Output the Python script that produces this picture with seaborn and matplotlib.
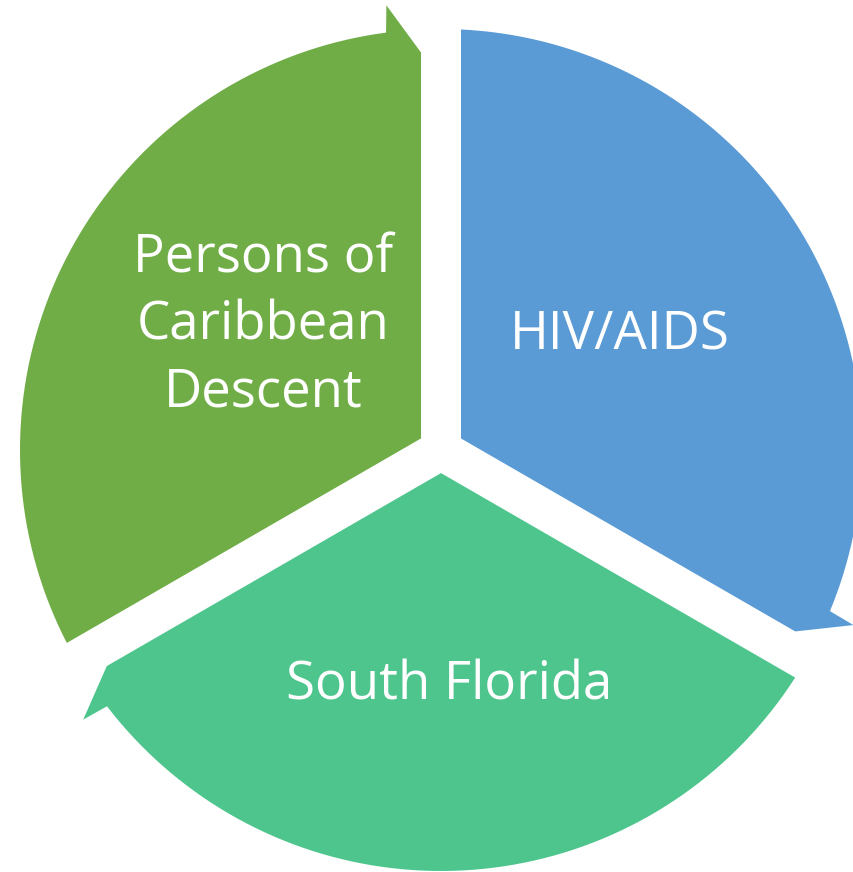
import numpy as np
import matplotlib.pyplot as plt
import seaborn as sns
from matplotlib.patches import Polygon

# segments, clockwise from 12 o'clock
labels = ["HIV/AIDS", "South Florida", "Persons of\nCaribbean\nDescent"]
shares = [1, 1, 1]
hex_colors = ["#5B9BD5", "#4FC58E", "#70AD47"]

W, H = 854, 872
CX, CY = 441, 450      # circle centre in pixels
R = 421                # outer radius
GAP = 20               # half-width of the white gaps
BARB = 27              # arrow head sticks out this much
TIP_R = 398            # radius of arrow tip
NOTCH = 7.5            # degrees before the segment end where the head starts


def u(deg):
    a = np.radians(deg)
    return np.array([np.cos(a), np.sin(a)])


def segment(a0, a1):
    # a0 > a1, going clockwise
    half = (a0 - a1) / 2
    mid = a0 - half
    corner = u(mid) * GAP / np.sin(np.radians(half))
    # start edge, offset to the clockwise side
    t = np.sqrt(R**2 - GAP**2)
    start_outer = t * u(a0) + GAP * u(a0 - 90)
    start_ang = np.degrees(np.arctan2(start_outer[1], start_outer[0]))
    if start_ang < a1:
        start_ang += 360
    arc = np.linspace(start_ang, a1 + NOTCH, 80)
    pts = [corner, start_outer]
    pts += [R * u(a) for a in arc]
    pts.append((R + BARB) * u(a1 + NOTCH - 0.5))
    tt = np.sqrt(TIP_R**2 - GAP**2)
    pts.append(tt * u(a1) + GAP * u(a1 + 90))
    return np.array(pts)


sns.set_theme(style="white")
palette = sns.color_palette(hex_colors)
plt.rcParams["font.family"] = ["Open Sans", "DejaVu Sans"]

fig = plt.figure(figsize=(W / 100, H / 100), dpi=100)
ax = fig.add_axes([0, 0, 1, 1])
ax.set_xlim(-CX, W - CX)
ax.set_ylim(-(H - CY), CY)
ax.axis("off")

total = sum(shares)
start = 90.0
label_pos = [(179, 114), (8, -236), (-178, 124)]
for lab, sh, col, pos in zip(labels, shares, palette, label_pos):
    end = start - 360.0 * sh / total
    ax.add_patch(Polygon(segment(start, end), closed=True, facecolor=col,
                         edgecolor="none"))
    ax.text(pos[0], pos[1], lab, color="white", ha="center", va="center",
            fontsize=38, linespacing=1.33)
    start = end

fig.savefig("out.png", dpi=100, facecolor="white")
